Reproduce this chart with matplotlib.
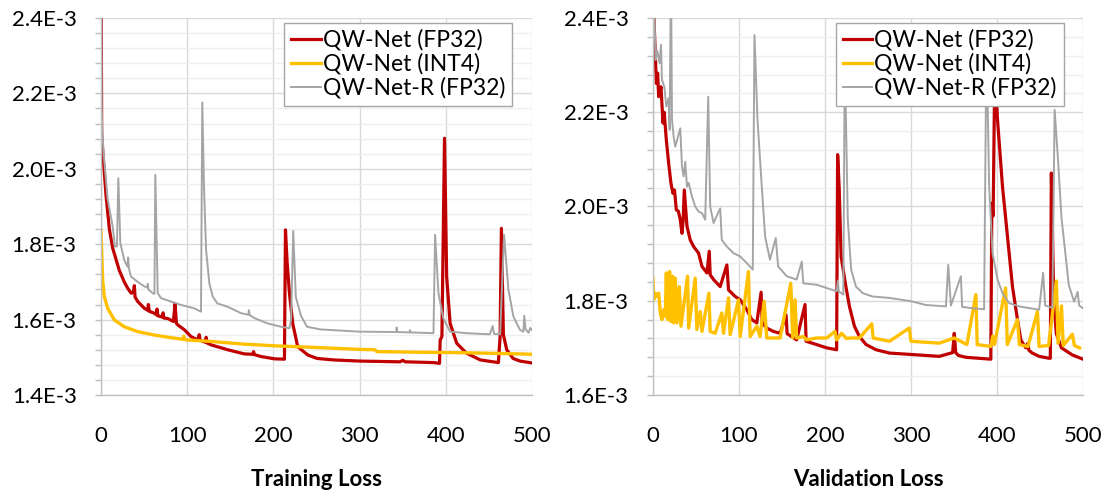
import matplotlib
matplotlib.use("Agg")
import matplotlib.pyplot as plt
from matplotlib.ticker import MultipleLocator, FuncFormatter

plt.rcParams["font.family"] = ["Lato", "DejaVu Sans"]

RED = "#C00000"
YELLOW = "#FFC000"
GRAY = "#A5A5A5"
GRID_MAJOR = "#D9D9D9"
GRID_MINOR = "#EFEFEF"
AXIS_GRAY = "#BFBFBF"

labels = ["QW-Net (FP32)", "QW-Net (INT4)", "QW-Net-R (FP32)"]
x_ticks = [0, 100, 200, 300, 400, 500]

# all losses in units of 1E-3
train_fp32_epoch = [0, 0.8, 1.9, 5.8, 9.7, 13.5, 17.4, 21.3, 27, 31, 35, 37.5, 38.7, 39.5, 42.6,
                    50.3, 54, 55, 56, 61.9, 64, 65, 66, 71, 72, 73, 77.4, 84, 85.9, 87.5, 89,
                    96.7, 104.4, 112.2, 114, 115, 121, 122, 123, 127.7, 147, 166.3, 176, 177, 178,
                    185.7, 201, 212.8, 214, 216, 218.6, 222.4, 228.2, 240, 250.6, 270, 300,
                    347, 350, 353, 385.7, 392.7, 393.5, 395.5, 398.5, 401, 405, 412.7, 424,
                    440, 461, 463, 464.5, 466.8, 470.7, 478, 486, 500]
train_fp32_loss = [2.60, 2.09, 2.05, 1.93, 1.84, 1.79, 1.76, 1.73, 1.70, 1.683, 1.67, 1.672, 1.69, 1.66, 1.648,
                   1.63, 1.625, 1.64, 1.622, 1.617, 1.613, 1.628, 1.61, 1.607, 1.618, 1.604, 1.603, 1.595, 1.643, 1.59, 1.586,
                   1.573, 1.555, 1.546, 1.56, 1.545, 1.54, 1.553, 1.538, 1.533, 1.52, 1.509, 1.508, 1.515, 1.507,
                   1.502, 1.496, 1.495, 1.838, 1.75, 1.67, 1.59, 1.528, 1.506, 1.497, 1.493, 1.490,
                   1.488, 1.492, 1.488, 1.486, 1.484, 1.546, 1.555, 2.081, 1.714, 1.59, 1.537, 1.511,
                   1.493, 1.486, 1.555, 1.842, 1.56, 1.52, 1.497, 1.49, 1.485]

train_int4_epoch = [0, 1.9, 3.9, 7.7, 15.5, 27, 42.6, 62, 81, 95, 96, 97, 100.6, 127.7, 166, 205,
                    240, 300, 318, 320, 385.7, 424, 486, 500]
train_int4_loss = [1.838, 1.705, 1.661, 1.63, 1.599, 1.581, 1.568, 1.559, 1.552, 1.548, 1.556, 1.547, 1.546,
                   1.542, 1.535, 1.530, 1.527, 1.521, 1.520, 1.515, 1.513, 1.512, 1.509, 1.508]

train_r_epoch = [0, 0.7, 1.5, 3.1, 7.7, 13.5, 16.2, 18.5, 20.1, 22.4, 27, 30.9, 31.5, 32.5, 34.8,
                 42.6, 50.3, 54, 54.2, 55, 60, 62, 63, 65.8, 69.6, 81, 92.8, 108, 116, 117.5,
                 119.5, 121.9, 125.7, 129.6, 135, 147, 162.5, 171, 171.5, 172.5, 178, 193, 209,
                 218.6, 220.5, 223, 226, 232, 239, 254.4, 300, 342.5, 343, 343.7, 358, 358.5, 359,
                 385.7, 387.6, 391.5, 397, 405, 424, 451, 454.4, 456, 463, 467.6, 472.6, 478.4,
                 486, 490, 491, 492.5, 496, 498, 500]
train_r_loss = [2.60, 2.17, 2.10, 2.04, 1.92, 1.847, 1.794, 1.794, 1.975, 1.803, 1.758, 1.74, 1.765, 1.735, 1.714,
                1.70, 1.688, 1.685, 1.695, 1.68, 1.67, 1.668, 1.984, 1.67, 1.657, 1.648, 1.639, 1.63, 1.621, 2.176,
                1.95, 1.785, 1.696, 1.661, 1.643, 1.634, 1.617, 1.613, 1.625, 1.612, 1.604, 1.59, 1.581,
                1.577, 1.60, 1.835, 1.66, 1.61, 1.581, 1.574, 1.568, 1.567, 1.579, 1.567, 1.566, 1.572, 1.566,
                1.564, 1.825, 1.67, 1.604, 1.568, 1.564, 1.561, 1.583, 1.562, 1.561, 1.825, 1.68, 1.608,
                1.573, 1.568, 1.61, 1.575, 1.565, 1.578, 1.572]

val_fp32_epoch = [0, 1.5, 3.9, 5.4, 6.6, 9.3, 11.6, 13, 15.5, 18.2, 20.9, 23.2, 25, 27.1, 29.5, 31.7,
                  33.7, 35, 36.4, 39.5, 43.3, 47.2, 53, 56.9, 62.7, 65.4, 66.5, 70.4, 78.1, 85.9,
                  87.8, 95.6, 101.4, 109, 114.9, 120.7, 125.7, 127, 132.3, 140, 147.8, 154.7, 156,
                  167, 176.8, 178, 190.3, 202, 213.5, 214.7, 216.5, 218.7, 224.3, 228.4, 234.2, 240,
                  247.8, 259.4, 274.9, 300, 332.9, 348.4, 350.3, 352, 355, 363.8, 392.8, 394, 395.5,
                  397.5, 400.6, 406.4, 412.2, 418, 423.8, 427.7, 433.5, 436, 437, 441, 449, 460.5,
                  462, 463.2, 466, 469, 475, 487.6, 500]
val_fp32_loss = [2.50, 2.38, 2.261, 2.283, 2.233, 2.254, 2.177, 2.20, 2.141, 2.092, 2.049, 2.028, 2.035, 1.993, 1.99, 1.972,
                 1.943, 1.97, 2.035, 1.958, 1.929, 1.915, 1.901, 1.873, 1.859, 1.905, 1.855, 1.845, 1.83, 1.876,
                 1.823, 1.809, 1.802, 1.781, 1.76, 1.753, 1.818, 1.753, 1.742, 1.735, 1.731, 1.77, 1.73,
                 1.717, 1.792, 1.714, 1.707, 1.70, 1.696, 2.11, 2.04, 1.894, 1.83, 1.788, 1.746, 1.724,
                 1.707, 1.696, 1.689, 1.686, 1.682, 1.69, 1.731, 1.69, 1.684, 1.68, 1.676, 2.007, 1.98,
                 2.30, 2.184, 2.042, 1.936, 1.83, 1.76, 1.717, 1.70, 1.71, 1.695, 1.689, 1.682, 1.678,
                 1.678, 2.071, 1.80, 1.73, 1.70, 1.685, 1.676]

val_int4_epoch = [0, 0.8, 2.7, 4.6, 6.6, 8.5, 10.4, 12.4, 14.3, 15.5, 17, 19.3, 20.9, 22.8, 24, 25.9,
                  27.9, 30.6, 32.5, 40.2, 41.4, 49.1, 51, 54.9, 56.9, 65, 66.5, 72.3, 80, 82, 87.8,
                  89.7, 99.4, 101.4, 111, 112.9, 120.7, 124.5, 129.2, 132.3, 140, 147.8, 160.2, 162.5,
                  165.2, 167, 174.8, 178.7, 190.3, 202, 211.6, 213.5, 219.3, 225, 230, 240, 254.4, 256,
                  275, 298, 300, 317, 332.9, 350.3, 365, 375.4, 377, 392.8, 395, 397, 410, 412, 423.8,
                  426, 436, 447, 449, 460, 469, 471, 475, 477, 487.6, 490, 496]
val_int4_loss = [1.848, 1.802, 1.816, 1.809, 1.816, 1.774, 1.76, 1.781, 1.767, 1.859, 1.76, 1.862, 1.756, 1.852, 1.753, 1.848,
                 1.753, 1.83, 1.746, 1.852, 1.742, 1.848, 1.739, 1.777, 1.735, 1.816, 1.735, 1.731, 1.774, 1.731, 1.806,
                 1.728, 1.802, 1.724, 1.862, 1.724, 1.746, 1.724, 1.799, 1.721, 1.721, 1.721, 1.837, 1.721,
                 1.802, 1.721, 1.724, 1.717, 1.721, 1.721, 1.735, 1.717, 1.731, 1.72, 1.721, 1.721, 1.751, 1.721,
                 1.714, 1.742, 1.714, 1.712, 1.71, 1.721, 1.707, 1.813, 1.707, 1.703, 1.725, 1.707, 1.827, 1.707, 1.76,
                 1.707, 1.703, 1.777, 1.703, 1.705, 1.842, 1.71, 1.789, 1.705, 1.729, 1.705, 1.70]

val_r_epoch = [0, 1, 3.1, 5, 7.7, 9.3, 10.4, 13.2, 15.5, 18.2, 19.3, 20.9, 22.1, 24, 25.9, 31.7, 33.7,
               35.6, 37.5, 39.5, 41.5, 45.3, 49.1, 53, 56.9, 60.7, 64.2, 66.5, 70.4, 78.1, 80, 85.9,
               93.6, 101.4, 109, 116, 118, 121.5, 126.5, 130.4, 136, 142.7, 145.5, 155.5, 167, 173,
               174.8, 190.3, 202, 213.5, 215, 216, 221.3, 223, 226.5, 230.4, 236, 244, 255.5, 274.9,
               300, 317.4, 340.6, 343.3, 346.4, 358, 359.5, 371.6, 385, 387.7, 390.9, 394.8, 400.6,
               406.4, 414, 425.7, 449, 453.6, 456, 464.4, 467, 471, 475, 483.5, 489.7, 493.8, 495.5, 500]
val_r_loss = [2.60, 2.45, 2.311, 2.33, 2.304, 2.343, 2.269, 2.254, 2.212, 2.23, 2.163, 2.50, 2.184, 2.148, 2.127, 2.166, 2.085,
              2.064, 2.095, 2.042, 2.05, 2.021, 2.0, 1.989, 1.986, 1.972, 2.233, 2.0, 1.965, 1.996, 1.929, 1.915,
              1.901, 1.894, 1.88, 1.866, 2.364, 2.184, 2.042, 1.936, 1.887, 1.933, 1.873, 1.852, 1.845, 1.883,
              1.837, 1.834, 1.827, 1.82, 1.843, 1.82, 1.813, 2.32, 1.972, 1.866, 1.83, 1.816, 1.809, 1.806,
              1.799, 1.791, 1.788, 1.876, 1.79, 1.852, 1.787, 1.784, 1.782, 2.35, 2.042, 1.901, 1.845,
              1.816, 1.795, 1.788, 1.781, 1.859, 1.79, 1.785, 2.205, 2.098, 1.976, 1.833, 1.798, 1.819, 1.79, 1.784]


def style_axes(ax, ymin, ymax, title):
    ax.set_xlim(0, 500)
    ax.set_ylim(ymin, ymax)
    ax.set_xticks(x_ticks)
    ax.yaxis.set_major_locator(MultipleLocator(0.2))
    ax.yaxis.set_minor_locator(MultipleLocator(0.04))
    ax.yaxis.set_major_formatter(FuncFormatter(lambda v, pos: f"{v:.1f}E-3"))
    ax.set_axisbelow(True)
    ax.grid(True, which="major", axis="both", color=GRID_MAJOR, linewidth=1.0)
    ax.grid(True, which="minor", axis="y", color=GRID_MINOR, linewidth=1.0)
    for side in ("top", "right"):
        ax.spines[side].set_visible(False)
    for side in ("left", "bottom"):
        ax.spines[side].set_color(AXIS_GRAY)
        ax.spines[side].set_linewidth(1.0)
    ax.tick_params(axis="y", which="major", length=4.5, width=1.0, color=AXIS_GRAY,
                   labelsize=16, pad=13, labelcolor="black")
    ax.tick_params(axis="y", which="minor", length=4, width=1.0, color=AXIS_GRAY)
    ax.tick_params(axis="x", which="both", length=0, labelsize=16, pad=22, labelcolor="black")
    ax.set_xlabel(title, fontsize=16, fontweight="bold", labelpad=17)


def draw(ax, series):
    lines = []
    for (ep, loss), color, lw in zip(series, [RED, YELLOW, GRAY], [2.3, 2.4, 1.4]):
        ln, = ax.plot(ep, loss, color=color, linewidth=lw, solid_joinstyle="round")
        lines.append(ln)
    leg = ax.legend(lines, labels, loc="upper left", bbox_to_anchor=(0.425, 0.988),
                    borderaxespad=0, fontsize=16.5, handlelength=1.3, handletextpad=0.08,
                    labelspacing=0.1, borderpad=0.3, fancybox=False, framealpha=1)
    leg.get_frame().set_edgecolor("#A6A6A6")
    leg.get_frame().set_linewidth(1.0)


fig = plt.figure(figsize=(11.07, 4.91), dpi=100)
ax1 = fig.add_axes([101 / 1107, 96 / 491, 431 / 1107, 377 / 491])
ax2 = fig.add_axes([653 / 1107, 96 / 491, 430 / 1107, 377 / 491])

style_axes(ax1, 1.4, 2.4, "Training Loss")
draw(ax1, [(train_fp32_epoch, train_fp32_loss), (train_int4_epoch, train_int4_loss),
           (train_r_epoch, train_r_loss)])

style_axes(ax2, 1.6, 2.4, "Validation Loss")
draw(ax2, [(val_fp32_epoch, val_fp32_loss), (val_int4_epoch, val_int4_loss),
           (val_r_epoch, val_r_loss)])

fig.savefig("out.png", dpi=100)
